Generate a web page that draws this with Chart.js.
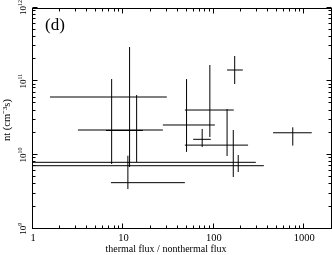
<!DOCTYPE html>
<html>
<head>
<meta charset="utf-8">
<script src="https://cdn.jsdelivr.net/npm/chart.js@4.4.1/dist/chart.umd.min.js"></script>
<style>
  html, body { margin: 0; padding: 0; background: #fff; }
  #wrap { width: 332px; height: 255px; }
</style>
</head>
<body>
<div id="wrap"><canvas id="chart" width="332" height="255"></canvas></div>
<script>
// thermal flux / nonthermal flux (x) with its error range
const ratio   = [11.7, 7.41, 14.0, 49.9, 90.3, 74.3, 140, 170, 746, 164, 186, 11.2];
const ratioLo = [1.54, 6.41, 3.14, 27.3, 47.8, 59.1, 47.8, 140, 452, 0.1, 0.1, 7.28];
const ratioHi = [30.2, 16.4, 27.3, 102.6, 166, 92.6, 239, 209, 1210, 357, 291, 47.8];

// nt in cm^-3 s (y) with its error range
const nt   = [6.11e10, 2.15e10, 2.18e10, 2.55e10, 4.07e10, 1.63e10, 1.36e10, 1.42e11, 2.00e10, 7.15e9, 7.95e9, 4.21e9];
const ntLo = [6.87e9, 7.54e9, 8.03e9, 1.10e10, 1.75e10, 1.28e10, 9.68e9, 9.17e10, 1.34e10, 5.02e9, 5.87e9, 3.45e9];
const ntHi = [2.91e11, 1.07e11, 6.50e10, 1.07e11, 1.66e11, 2.25e10, 4.20e10, 2.20e11, 2.37e10, 2.18e10, 9.99e9, 9.77e9];

const xTickLabels = ['1', '10', '100', '1000'];
const xTickValues = [1, 10, 100, 1000];
const yTickExps = [9, 10, 11, 12];

const SERIF = '"Liberation Serif", "Times New Roman", serif';

// one dataset per error bar segment
const datasets = [];
ratio.forEach((xv, i) => {
    datasets.push({
        data: [{ x: ratioLo[i], y: nt[i] }, { x: ratioHi[i], y: nt[i] }]
    });
    datasets.push({
        data: [{ x: xv, y: ntLo[i] }, { x: xv, y: ntHi[i] }]
    });
});

const SUP = { '-': '\u207B', '0': '\u2070', '1': '\u00B9', '2': '\u00B2', '3': '\u00B3', '9': '\u2079' };

function drawPow(ctx, exp, cx, cy) {
    // rotated "10^exp" label centred on (cx, cy)
    ctx.save();
    ctx.translate(cx, cy);
    ctx.rotate(-Math.PI / 2);
    ctx.fillStyle = '#000';
    ctx.textBaseline = 'alphabetic';
    ctx.textAlign = 'left';
    ctx.font = '9px ' + SERIF;
    const wBase = ctx.measureText('10').width;
    ctx.font = '6px ' + SERIF;
    const wExp = ctx.measureText(String(exp)).width;
    const start = -(wBase + wExp) / 2;
    ctx.font = '9px ' + SERIF;
    ctx.fillText('10', start, 0);
    ctx.font = '6px ' + SERIF;
    ctx.fillText(String(exp), start + wBase, -4);
    ctx.restore();
}

const framePlugin = {
    id: 'frame',
    afterDraw(chart) {
        const { ctx, chartArea: a, scales } = chart;
        const xs = scales.x, ys = scales.y;
        const L = Math.round(a.left) - 0.5, R = Math.round(a.right) - 0.5;
        const T = Math.round(a.top) + 0.5, B = Math.round(a.bottom) - 0.5;

        ctx.save();
        ctx.strokeStyle = '#000';
        ctx.lineWidth = 1;
        ctx.strokeRect(L, T, R - L, B - T);

        ctx.beginPath();
        // x ticks, bottom and top, pointing inward
        for (let d = 1; d <= 1000; d *= 10) {
            for (let m = 1; m <= 9; m++) {
                const v = d * m;
                if (v > xs.max) break;
                const px = Math.round(xs.getPixelForValue(v)) - 0.5;
                const len = m === 1 ? 5 : 3;
                ctx.moveTo(px, B); ctx.lineTo(px, B - len);
                ctx.moveTo(px, T); ctx.lineTo(px, T + len);
            }
        }
        // y ticks, left and right
        for (let e = 9; e <= 12; e++) {
            for (let m = 1; m <= 9; m++) {
                const v = m * Math.pow(10, e);
                if (v > ys.max) break;
                const py = Math.round(ys.getPixelForValue(v)) - 0.5;
                const len = m === 1 ? 5 : 3;
                ctx.moveTo(L, py); ctx.lineTo(L + len, py);
                ctx.moveTo(R, py); ctx.lineTo(R - len, py);
            }
        }
        ctx.stroke();

        // x tick labels
        ctx.fillStyle = '#000';
        ctx.font = '10.5px ' + SERIF;
        ctx.textAlign = 'center';
        ctx.textBaseline = 'alphabetic';
        xTickValues.forEach((v, i) => {
            ctx.fillText(xTickLabels[i], xs.getPixelForValue(v), 241);
        });

        // y tick labels
        yTickExps.forEach(e => {
            drawPow(ctx, e, 26, ys.getPixelForValue(Math.pow(10, e)));
        });

        // axis titles
        ctx.font = '10px ' + SERIF;
        ctx.textAlign = 'center';
        ctx.fillText('thermal flux / nonthermal flux', 166, 251.5);

        ctx.save();
        ctx.translate(10, 120);
        ctx.rotate(-Math.PI / 2);
        ctx.font = '10.5px ' + SERIF;
        ctx.fillText('nt (cm' + SUP['-'] + SUP['3'] + 's)', 0, 0);
        ctx.restore();

        // panel label
        ctx.font = '17px ' + SERIF;
        ctx.textAlign = 'left';
        ctx.fillText('(d)', 45, 30);
        ctx.restore();
    }
};

new Chart(document.getElementById('chart'), {
    type: 'scatter',
    data: { datasets },
    options: {
        responsive: false,
        animation: false,
        showLine: true,
        borderColor: '#000',
        borderWidth: 1,
        pointRadius: 0,
        pointHoverRadius: 0,
        layout: { padding: { left: 33, right: 0.5, top: 7.5, bottom: 26.3 } },
        plugins: { legend: { display: false }, tooltip: { enabled: false } },
        scales: {
            x: { type: 'logarithmic', min: 1, max: 2000, display: false },
            y: { type: 'logarithmic', min: 1e9, max: 1e12, display: false }
        }
    },
    plugins: [framePlugin]
});
</script>
</body>
</html>
